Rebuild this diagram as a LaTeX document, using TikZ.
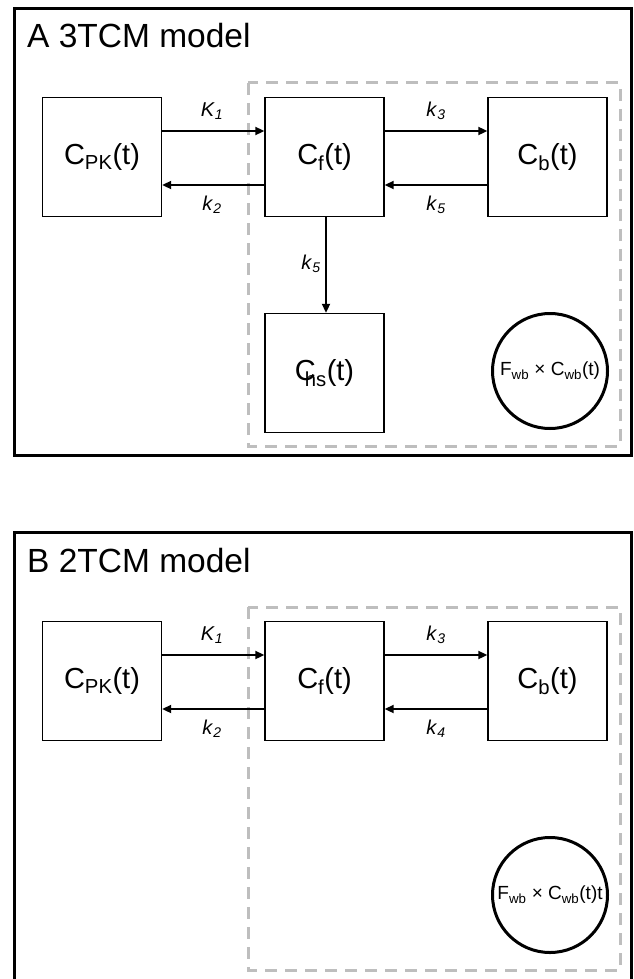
\documentclass[tikz,border=0pt]{standalone}
\usepackage{fontspec}
\setmainfont{Liberation Sans}
\usepackage{tikz}
\usetikzlibrary{arrows.meta,positioning}
\usepackage{xcolor}
\definecolor{boxgray}{RGB}{190,190,190}

% 速率常数与浓度
\newcommand{\rate}[2]{\textit{#1}\textsubscript{\textit{#2}}}
\newcommand{\conc}[1]{C\textsubscript{#1}(t)}

\begin{document}
\begin{tikzpicture}[x=1pt,y=-1pt,>={Triangle[length=9pt,width=8pt]},
  panel/.style={line width=3pt},
  title/.style={anchor=base west,inner sep=0pt,font=\fontsize{33.5}{40}\selectfont},
  region/.style={draw=boxgray,line width=3pt,dash pattern=on 12pt off 8pt},
  comp/.style={draw,line width=1.4pt,minimum width=119pt,minimum height=119pt,inner sep=0pt,font=\fontsize{29}{34}\selectfont},
  pool/.style={draw,circle,line width=3pt,minimum size=115pt,inner sep=0pt,font=\fontsize{19}{23}\selectfont},
  rate/.style={inner sep=0pt,font=\fontsize{20}{24}\selectfont},
  flow/.style={->,line width=2pt}]
  \useasboundingbox (0,0) rectangle (633,979);

  % A：三组织房室模型
  \draw[panel] (14.5,8.5) rectangle (631,455.5);
  \node[title] (ta) at (27,48) {A 3TCM model};
  \draw[region] (248,83) rectangle (620,446);

  % 房室
  \node[comp] (pka) at (102,157) {\conc{PK}};
  \node[comp] (cfa) at (324.5,157) {\conc{f}};
  \node[comp] (cba) at (547.5,157) {\conc{b}};
  \node[comp] (chsa) at (324.5,373) {C\kern-.38em\textsubscript{hs}(t)};
  \node[pool] (wba) at (550,371) {F\textsubscript{wb} × \conc{wb}};

  % 交换箭头
  \draw[flow] ([yshift=26pt]pka.east) -- ([yshift=26pt]cfa.west);
  \draw[flow] ([yshift=-28pt]cfa.west) -- ([yshift=-28pt]pka.east);
  \draw[flow] ([yshift=26pt]cfa.east) -- ([yshift=26pt]cba.west);
  \draw[flow] ([yshift=-28pt]cba.west) -- ([yshift=-28pt]cfa.east);
  \draw[flow] ([xshift=1.5pt]cfa.south) -- ([xshift=1.5pt]chsa.north);

  % 速率标注
  \node[rate] (k1a) at (212,111) {\rate{K}{1}};
  \node[rate] (k2a) at (212,205) {\rate{k}{2}};
  \node[rate] (k3a) at (436,111) {\rate{k}{3}};
  \node[rate] (k5a) at (436,205) {\rate{k}{5}};
  \node[rate] (k6a) at (311,264) {\rate{k}{5}};

  % B：两组织房室模型
  \begin{scope}[yshift=-524pt]
  \draw[panel] (14.5,460) -- (14.5,8.5) -- (631,8.5) -- (631,460);
  \node[title] (tb) at (27,48) {B 2TCM model};
  \draw[region] (248,83) rectangle (620,446);

  \node[comp] (pkb) at (102,157) {\conc{PK}};
  \node[comp] (cfb) at (324.5,157) {\conc{f}};
  \node[comp] (cbb) at (547.5,157) {\conc{b}};
  \node[pool] (wbb) at (550,371) {F\textsubscript{wb} × \conc{wb}t};

  \draw[flow] ([yshift=26pt]pkb.east) -- ([yshift=26pt]cfb.west);
  \draw[flow] ([yshift=-28pt]cfb.west) -- ([yshift=-28pt]pkb.east);
  \draw[flow] ([yshift=26pt]cfb.east) -- ([yshift=26pt]cbb.west);
  \draw[flow] ([yshift=-28pt]cbb.west) -- ([yshift=-28pt]cfb.east);

  \node[rate] (k1b) at (212,111) {\rate{K}{1}};
  \node[rate] (k2b) at (212,205) {\rate{k}{2}};
  \node[rate] (k3b) at (436,111) {\rate{k}{3}};
  \node[rate] (k4b) at (436,205) {\rate{k}{4}};
  \end{scope}
\end{tikzpicture}
\end{document}
